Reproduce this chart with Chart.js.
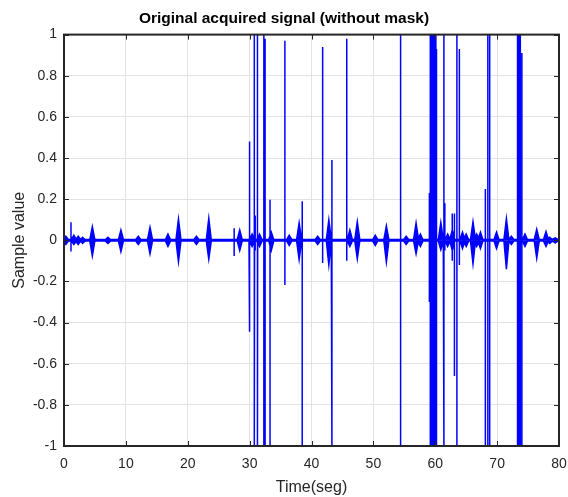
<!DOCTYPE html>
<html>
<head>
<meta charset="utf-8">
<script src="https://cdn.jsdelivr.net/npm/chart.js@4/dist/chart.umd.min.js"></script>
<style>
  html, body { margin: 0; padding: 0; background: #fff; }
  canvas { display: block; }
</style>
</head>
<body>
<canvas id="js-signal" width="568" height="497"></canvas>
<script>
"use strict";

// bursts (short oscillations around zero): centre time, positive peak, negative peak
const burstTimes = [0.3, 1.6, 2.3, 3.0, 4.58, 7.1, 9.2, 12.0, 13.9, 16.8, 18.5, 21.4, 23.4, 28.4, 30.4, 31.6, 33.5, 36.4, 38.0, 41.0, 42.8, 46.2, 47.4, 50.3, 52.1, 55.3, 56.9, 57.6, 60.9, 62.0, 62.75, 64.4, 65.0, 66.1, 66.7, 67.3, 69.9, 71.5, 72.3, 74.5, 76.4, 77.9, 78.5, 79.4];
const burstHigh = [0.02, 0.025, 0.02, 0.015, 0.066, 0.015, 0.05, 0.02, 0.063, 0.03, 0.104, 0.02, 0.107, 0.05, 0.03, 0.03, 0.04, 0.025, 0.085, 0.02, 0.1, 0.05, 0.09, 0.025, 0.07, 0.02, 0.084, 0.03, 0.087, 0.03, 0.05, 0.04, 0.03, 0.09, 0.03, 0.04, 0.04, 0.105, 0.02, 0.03, 0.054, 0.043, 0.015, 0.012];
const burstLow = [-0.02, -0.02, -0.02, -0.015, -0.076, -0.015, -0.055, -0.02, -0.066, -0.03, -0.104, -0.02, -0.092, -0.05, -0.03, -0.03, -0.05, -0.025, -0.095, -0.02, -0.12, -0.03, -0.09, -0.025, -0.106, -0.02, -0.066, -0.03, -0.046, -0.03, -0.05, -0.04, -0.03, -0.114, -0.03, -0.04, -0.04, -0.14, -0.02, -0.03, -0.087, -0.03, -0.015, -0.012];

// spikes (single clicks / saturations): time, top, bottom
const spikeTimes = [1.13, 27.5, 29.9, 30.05, 30.76, 30.9, 31.3, 32.3, 32.5, 33.3, 35.7, 38.5, 41.8, 43.3, 45.7, 54.4, 59.05, 59.2, 59.35, 59.5, 59.65, 59.8, 59.95, 60.1, 60.2, 61.4, 61.55, 62.75, 63.1, 63.5, 63.9, 68.1, 68.5, 68.8, 73.3, 73.45, 73.6, 73.75, 74.0];
const spikeHigh = [0.088, 0.058, 0.48, 0.23, 1, 0.12, 1, 1, 0.98, 0.197, 0.97, 0.19, 0.94, 0.39, 0.98, 1, 0.23, 1, 1, 1, 1, 1, 1, 1, 0.93, 1, 0.18, 0.13, 0.13, 1, 0.93, 0.25, 1, 1, 1, 1, 1, 1, 0.91];
const spikeLow = [-0.055, -0.076, -0.444, -0.24, -1, -0.05, -1, -1, -1, -1, -0.217, -1, -0.11, -1, -0.1, -1, -0.3, -1, -1, -1, -1, -1, -1, -1, -1, -1, -0.05, -0.1, -0.66, -1, -0.12, -1, -1, -1, -1, -1, -1, -1, -1];

const noiseFloor = 0.004;
const timeEnd = 80;
const burstHalfWidth = 0.4;

function buildEnvelope(highSide) {
  const events = [];
  for (let i = 0; i < burstTimes.length; i++) {
    events.push({ t: burstTimes[i], v: highSide ? burstHigh[i] : burstLow[i], burst: true });
  }
  for (let i = 0; i < spikeTimes.length; i++) {
    events.push({ t: spikeTimes[i], v: highSide ? spikeHigh[i] : spikeLow[i], burst: false });
  }
  events.sort((a, b) => a.t - b.t);

  const f = highSide ? noiseFloor : -noiseFloor;
  const pts = [{ x: 0, y: f }];
  events.forEach((e) => {
    const hw = e.burst ? burstHalfWidth : 0;
    pts.push({ x: e.t - hw, y: f }, { x: e.t, y: e.v }, { x: e.t + hw, y: f });
  });
  pts.push({ x: timeEnd, y: f });
  return pts;
}

const BLUE = "#0000ff";
const AXIS_COLOR = "#262626";

// box + inward ticks, matlab style
const boxPlugin = {
  id: "box",
  afterDatasetsDraw(chart) {
    const { ctx, chartArea: a, scales } = chart;
    ctx.save();
    ctx.strokeStyle = AXIS_COLOR;
    ctx.lineWidth = 1;
    const len = 5;
    ctx.beginPath();
    scales.x.ticks.forEach((t) => {
      const px = Math.round(scales.x.getPixelForValue(t.value)) + 0.5;
      ctx.moveTo(px, a.bottom); ctx.lineTo(px, a.bottom - len);
      ctx.moveTo(px, a.top); ctx.lineTo(px, a.top + len);
    });
    scales.y.ticks.forEach((t) => {
      const py = Math.round(scales.y.getPixelForValue(t.value)) + 0.5;
      ctx.moveTo(a.left, py); ctx.lineTo(a.left + len, py);
      ctx.moveTo(a.right, py); ctx.lineTo(a.right - len, py);
    });
    ctx.stroke();
    ctx.lineWidth = 2;
    ctx.strokeRect(a.left, a.top, a.right - a.left, a.bottom - a.top);
    ctx.restore();
  },
};

const ctx = document.getElementById("js-signal").getContext("2d");
const signalChart = new Chart(ctx, {
  type: "line",
  data: {
    datasets: [
      {
        data: buildEnvelope(true),
        borderColor: BLUE,
        backgroundColor: BLUE,
        borderWidth: 1.5,
        fill: "origin",
      },
      {
        data: buildEnvelope(false),
        borderColor: BLUE,
        backgroundColor: BLUE,
        borderWidth: 1.5,
        fill: "origin",
      },
    ],
  },
  options: {
    responsive: false,
    animation: false,
    devicePixelRatio: 1,
    parsing: false,
    elements: {
      point: { radius: 0 },
      line: { tension: 0 },
    },
    layout: { padding: 0 },
    scales: {
      x: {
        type: "linear",
        min: 0,
        max: timeEnd,
        afterFit: (scale) => {
          scale.height = 51;
          scale.paddingLeft = 0;
          scale.paddingRight = 9; // keeps the right edge of the box at 559
        },
        border: { display: false },
        grid: { color: "#e3e3e3", drawTicks: false },
        ticks: {
          stepSize: 10,
          padding: 10,
          color: AXIS_COLOR,
          font: { family: "Liberation Sans", size: 14 },
          maxRotation: 0,
        },
        title: {
          display: true,
          text: "Time(seg)",
          color: AXIS_COLOR,
          font: { family: "Liberation Sans", size: 16 },
          padding: { top: 0, bottom: 0 },
        },
      },
      y: {
        min: -1,
        max: 1,
        afterFit: (scale) => { scale.width = 64; },
        border: { display: false },
        grid: { color: "#e3e3e3", drawTicks: false },
        ticks: {
          stepSize: 0.2,
          padding: 7,
          color: AXIS_COLOR,
          font: { family: "Liberation Sans", size: 14 },
          callback: (v) => String(Math.round(v * 10) / 10),
        },
        title: {
          display: true,
          text: "Sample value",
          color: AXIS_COLOR,
          font: { family: "Liberation Sans", size: 16 },
          padding: { top: 10, bottom: 0 },
        },
      },
    },
    plugins: {
      legend: { display: false },
      tooltip: { enabled: false },
      title: {
        display: true,
        text: "Original acquired signal (without mask)",
        color: "#000000",
        font: { family: "Liberation Sans", size: 15.5, weight: "bold" },
        padding: { top: 9, bottom: 7 },
      },
    },
  },
  plugins: [boxPlugin],
});
</script>
</body>
</html>
